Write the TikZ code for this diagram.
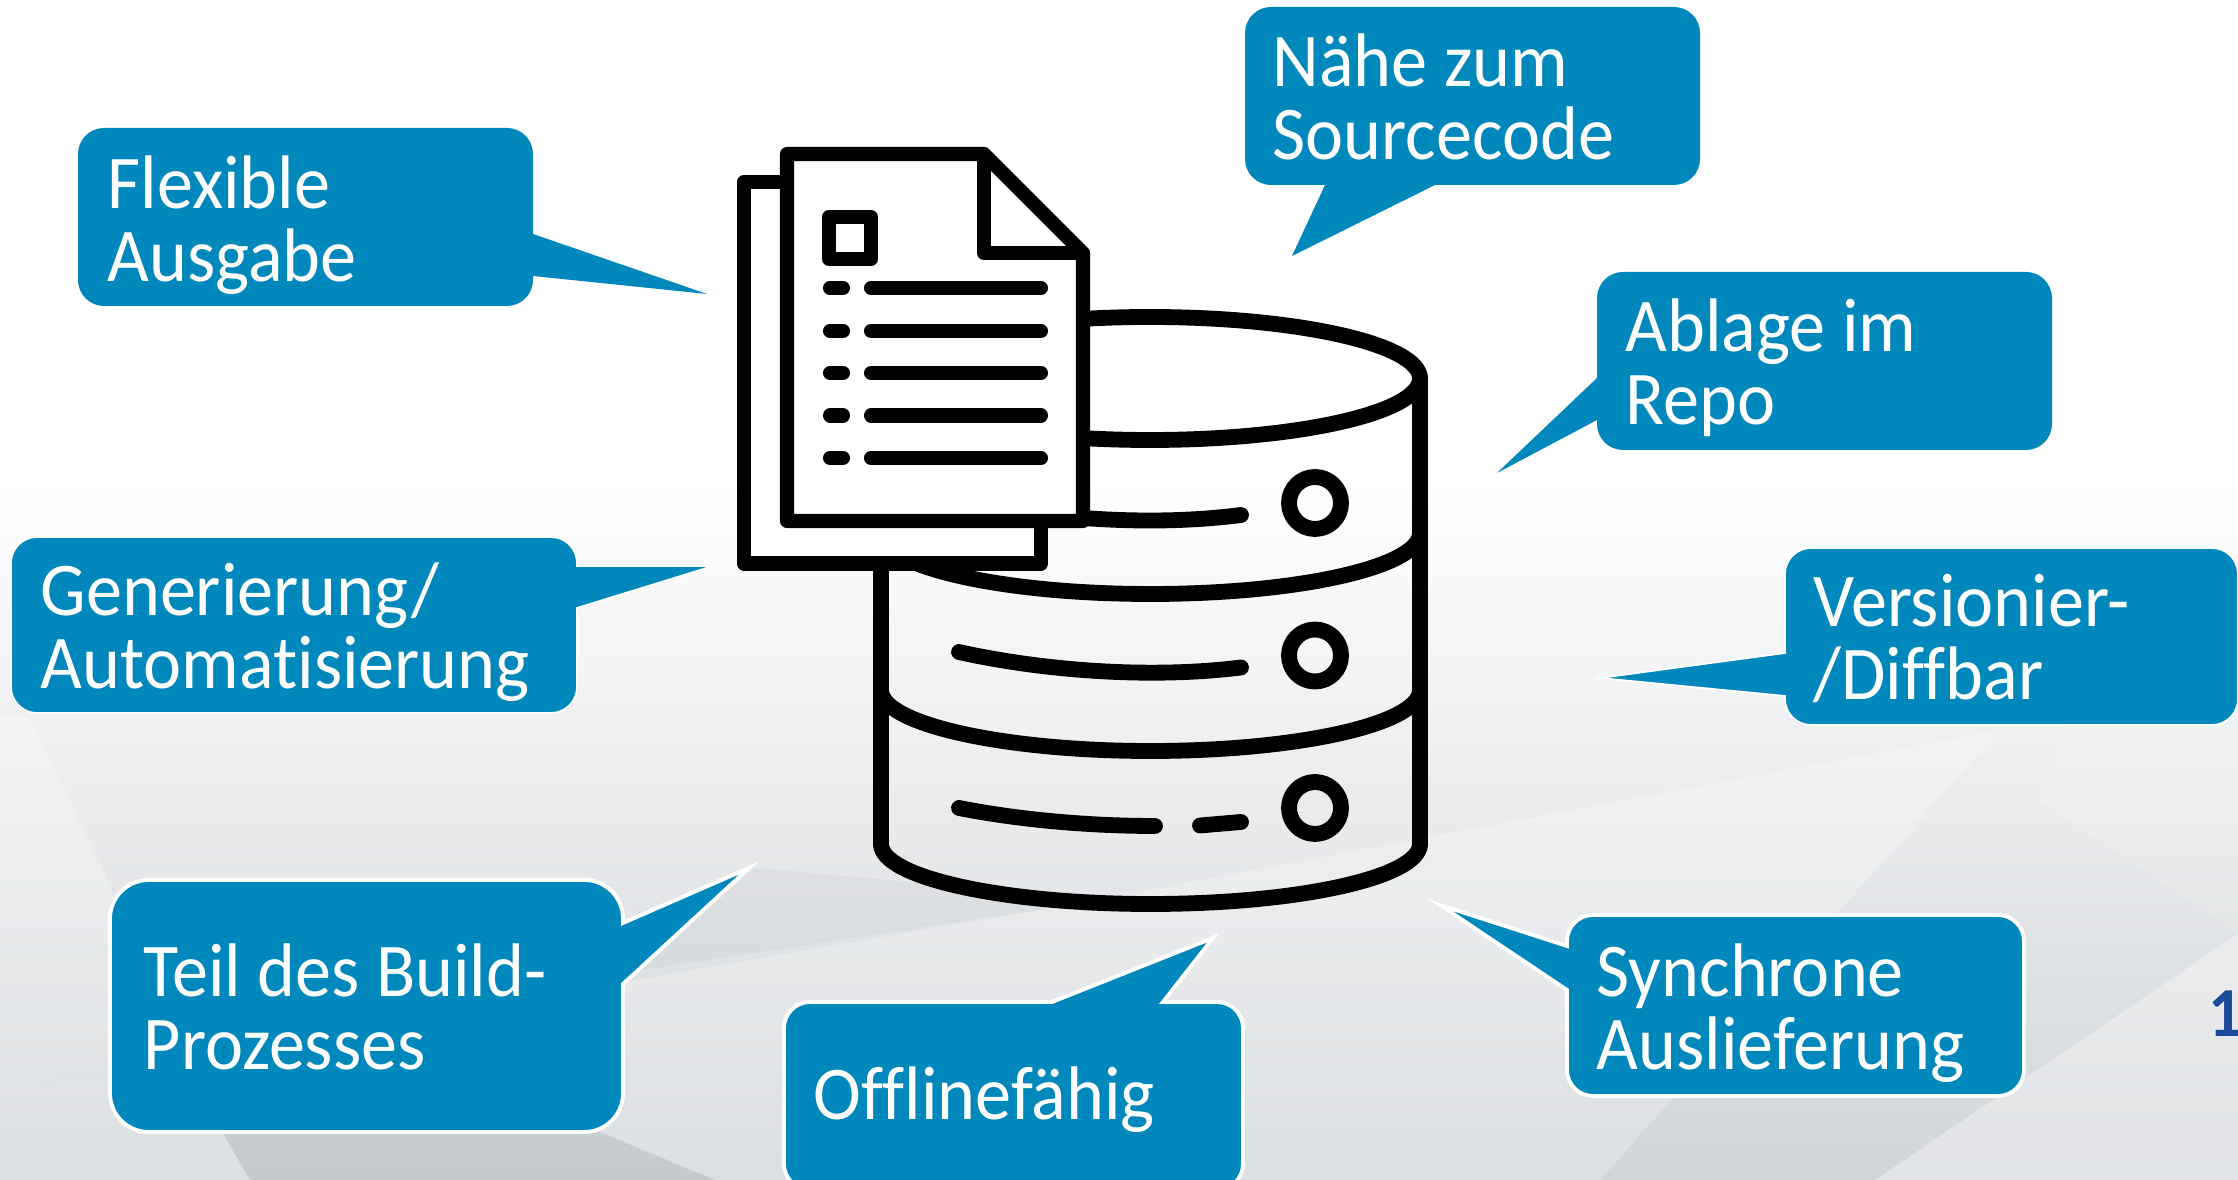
\documentclass[tikz,border=0pt]{standalone}
\usepackage{fontspec}
\setmainfont[FakeStretch=0.95, Ligatures=NoCommon]{Carlito}
\usepackage{tikz}
\definecolor{bubbleblue}{RGB}{0, 135, 187}
\definecolor{pageblue}{RGB}{27, 74, 154}
\definecolor{floorgray}{RGB}{209, 213, 217}
\definecolor{facetgray}{RGB}{120, 130, 140}

\begin{document}
\begin{tikzpicture}[x=0.01cm, y=-0.01cm,
    bubble/.style={fill=bubbleblue},
    outline/.style={draw=white, line width=1.1pt},
    smallround/.style={rounded corners=7.4pt},
    largeround/.style={rounded corners=11pt},
    bubbletext/.style={color=white, align=left, anchor=base west, inner sep=0pt,
      font=\fontsize{21.6}{21}\selectfont},
    sheet/.style={draw=black, fill=white, line width=4pt, line join=round},
    rowmark/.style={line width=4pt, line cap=round},
    tank/.style={line width=4.5pt, line cap=round, line join=round}]
  \useasboundingbox (0, 0) rectangle (2238, 1180);
  \clip (0, 0) rectangle (2238, 1180);

  % backdrop
  \fill[white] (0, 0) rectangle (2238, 1180);
  \shade[top color=white, bottom color=floorgray] (0, 480) rectangle (2238, 1180);
  \fill[white, opacity=0.25] (30, 717) -- (112, 890) -- (110, 1070) -- (0, 1090) -- (0, 717) -- cycle;
  \fill[facetgray, opacity=0.07] (623, 973) -- (1056, 907) -- (1000, 890) -- (755, 868) -- cycle;
  \fill[white, opacity=0.25] (0, 1090) -- (1056, 907) -- (2000, 730) -- (1600, 1180) -- (715, 1180) -- (600, 1132) -- (222, 1132) -- (250, 1180) -- (0, 1180) -- cycle;
  \fill[facetgray, opacity=0.12] (222, 1132) -- (600, 1132) -- (715, 1180) -- (250, 1180) -- cycle;
  \fill[white, opacity=0.35] (1875, 1180) -- (2238, 934) -- (2238, 1180) -- cycle;
  \fill[white, opacity=0.12] (2063, 725) -- (2238, 725) -- (2238, 934) -- (2041, 803) -- cycle;

  % tank
  \draw[tank] (1150, 378.5) ellipse [x radius=270, y radius=61.5];
  \draw[tank] (881, 378.5) -- (881, 844);
  \draw[tank] (1420, 378.5) -- (1420, 844);
  \draw[tank] (1420, 533) arc [start angle=0, end angle=180, x radius=269.5, y radius=61];
  \draw[tank] (1420, 690) arc [start angle=0, end angle=180, x radius=269.5, y radius=61];
  \draw[tank] (1420, 844) arc [start angle=0, end angle=180, x radius=269.5, y radius=60];

  \draw[tank] (1315, 503) circle [radius=26];
  \draw[tank] (1315, 655.5) circle [radius=26];
  \draw[tank] (1315, 808) circle [radius=26];

  \draw[tank] (959, 500) .. controls (1030, 516) and (1140, 528) .. (1241, 515);
  \draw[tank] (959, 652) .. controls (1030, 668) and (1140, 680) .. (1241, 667.5);
  \draw[tank] (959, 808) .. controls (1020, 820) and (1090, 826) .. (1155, 826);
  \draw[tank] (1200, 825.5) -- (1241, 822);

  % sheets
  \draw[sheet] (787, 182) -- (744, 182) -- (744, 563.5) -- (1041, 563.5) -- (1041, 521);
  \draw[sheet] (787, 154) -- (984, 154) -- (1083, 253) -- (1083, 521) -- (787, 521) -- cycle;
  \draw[sheet, fill=none] (984, 154) -- (984, 253) -- (1083, 253);
  \draw[sheet] (829, 217) rectangle (871, 259);

  \draw[rowmark] (830, 288) -- (843, 288);
  \draw[rowmark] (871, 288) -- (1041, 288);
  \draw[rowmark] (830, 331) -- (843, 331);
  \draw[rowmark] (871, 331) -- (1041, 331);
  \draw[rowmark] (830, 373) -- (843, 373);
  \draw[rowmark] (871, 373) -- (1041, 373);
  \draw[rowmark] (830, 415.5) -- (843, 415.5);
  \draw[rowmark] (871, 415.5) -- (1041, 415.5);
  \draw[rowmark] (830, 458) -- (843, 458);
  \draw[rowmark] (871, 458) -- (1041, 458);

  % bubbles
  \fill[bubble] (300, 128) [smallround] -- (533, 128) [sharp corners] -- (533, 234) -- (707, 294) -- (533, 276) [smallround] -- (533, 306) -- (78, 306) -- (78, 128) -- cycle;
  \node[bubbletext] (flexible) at (107, 282) { Flexible\\Ausgabe };

  \fill[bubble] (1500, 7) [smallround] -- (1700, 7) -- (1700, 185) [sharp corners] -- (1435, 185) -- (1292, 256) -- (1325, 185) [smallround] -- (1245, 185) -- (1245, 7) -- cycle;
  \node[bubbletext] (naehe) at (1272, 160) { Nähe zum\\Sourcecode };

  \fill[bubble] (1800, 272) [smallround] -- (2052, 272) -- (2052, 450) -- (1597, 450) [sharp corners] -- (1597, 420) -- (1497, 473) -- (1597, 378) [smallround] -- (1597, 272) -- cycle;
  \node[bubbletext] (ablage) at (1625, 425) { Ablage im\\Repo };

  \draw[bubble, outline, line width=0.5pt] (2000, 548) [smallround] -- (2238, 548) -- (2238, 725) -- (1785, 725) [sharp corners] -- (1785, 696) -- (1600, 678) -- (1785, 653) [smallround] -- (1785, 548) -- cycle;
  \node[bubbletext] (versionier) at (1813, 700) { Versionier-\\/Diffbar };

  \draw[bubble, outline, line width=0.5pt] (300, 537) [smallround] -- (577, 537) [sharp corners] -- (577, 566) -- (713, 566) -- (577, 608) [smallround] -- (577, 713) -- (11, 713) -- (11, 537) -- cycle;
  \node[bubbletext] (generierung) at (40, 689) { Generierung/\\Automatisierung };

  \draw[bubble, outline] (300, 880) [largeround] -- (623, 880) [sharp corners] -- (623, 923) -- (749, 868) -- (623, 984) [largeround] -- (623, 1132) -- (110, 1132) -- (110, 880) -- cycle;
  \node[bubbletext] (teil) at (143, 1070) { Teil des Build-\\Prozesses };

  \draw[bubble, outline] (900, 1002) [sharp corners] -- (1052, 1002) -- (1213, 938) -- (1163, 1002) [smallround] -- (1243, 1002) -- (1243, 1190) -- (784, 1190) -- (784, 1002) -- cycle;
  \node[bubbletext] (offline) at (813, 1120) { Offlinefähig };

  \draw[bubble, outline] (1800, 915) [smallround] -- (2024, 915) -- (2024, 1096) -- (1567, 1096) [sharp corners] -- (1567, 990) -- (1440, 905) -- (1567, 946) [smallround] -- (1567, 915) -- cycle;
  \node[bubbletext] (synchrone) at (1596, 1070) { Synchrone\\Auslieferung };

  \node[color=pageblue, anchor=base west, inner sep=0pt, font=\fontsize{20}{20}\selectfont\bfseries] (seite) at (2208, 1037) { 1 };
\end{tikzpicture}
\end{document}
